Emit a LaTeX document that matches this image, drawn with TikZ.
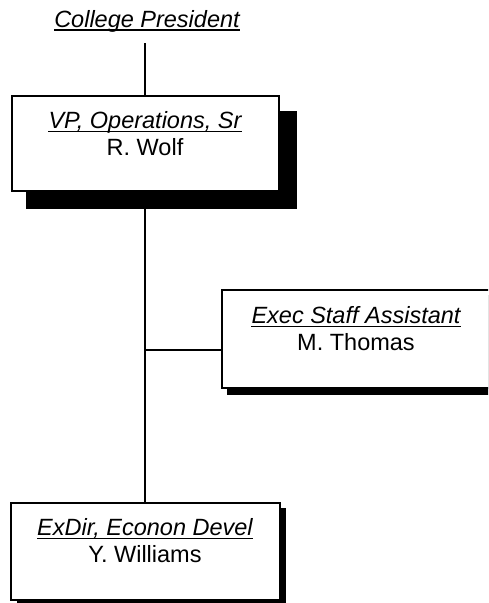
\documentclass[tikz,border=0pt]{standalone}
\usepackage{fontspec}
\setmainfont{Liberation Sans}
\begin{document}
\begin{tikzpicture}[x=1pt,y=-1pt,
  box/.style={draw=black, line width=1.4pt, fill=white, inner sep=0pt},
  shadowbox/.style={fill=black, draw=none, inner sep=0pt},
  lbl/.style={anchor=base, inner sep=0pt, font=\fontsize{23.5}{27}\selectfont},
  ttl/.style={lbl, font=\fontsize{23.5}{27}\selectfont\itshape},
  uline/.style={line width=1.4pt},
  conn/.style={line width=1.3pt}]
\useasboundingbox (0,0) rectangle (488,603);
\clip (0,0) rectangle (488,603);
% College President
\node[ttl] (cp) at (147,27) {College President};
\draw[uline] ([yshift=-3pt]cp.base west) -- ([yshift=-3pt]cp.base east);
\coordinate (cptop) at (145,43);
% VP box
\node[shadowbox, minimum width=271pt, minimum height=98pt] (vpsh) at (161.5,160) {};
\node[box, minimum width=267pt, minimum height=95pt] (vp) at (145.5,143.5) {};
\node[ttl] (vpt) at (145,128) {VP, Operations, Sr};
\draw[uline] ([yshift=-3.5pt]vpt.base west) -- ([yshift=-3.5pt]vpt.base east);
\node[lbl] (vpn) at (145,155) {R. Wolf};
% Exec box (runs past the right edge)
\node[shadowbox, minimum width=310pt, minimum height=100pt] (exsh) at (382,345) {};
\node[box, minimum width=310pt, minimum height=98pt] (ex) at (377,339) {};
\node[ttl] (ext) at (356,323) {Exec Staff Assistant};
\draw[uline] ([yshift=-3.5pt]ext.base west) -- ([yshift=-3.5pt]ext.base east);
\node[lbl] (exn) at (356,350) {M. Thomas};
% ExDir box
\node[shadowbox, minimum width=269pt, minimum height=99pt] (edsh) at (151.5,557.5) {};
\node[box, minimum width=269pt, minimum height=97pt] (ed) at (145.5,551.5) {};
\node[ttl] (edt) at (145,535) {ExDir, Econon Devel};
\draw[uline] ([yshift=-3.5pt]edt.base west) -- ([yshift=-3.5pt]edt.base east);
\node[lbl] (edn) at (145,562) {Y. Williams};
% connectors
\coordinate (jn) at (145,350);
\draw[conn] (cptop) -- (cptop |- vp.north);
\draw[conn] (cptop |- vpsh.south) -- (cptop |- ed.north);
\draw[conn] (jn) -- (jn -| ex.west);
\end{tikzpicture}
\end{document}
